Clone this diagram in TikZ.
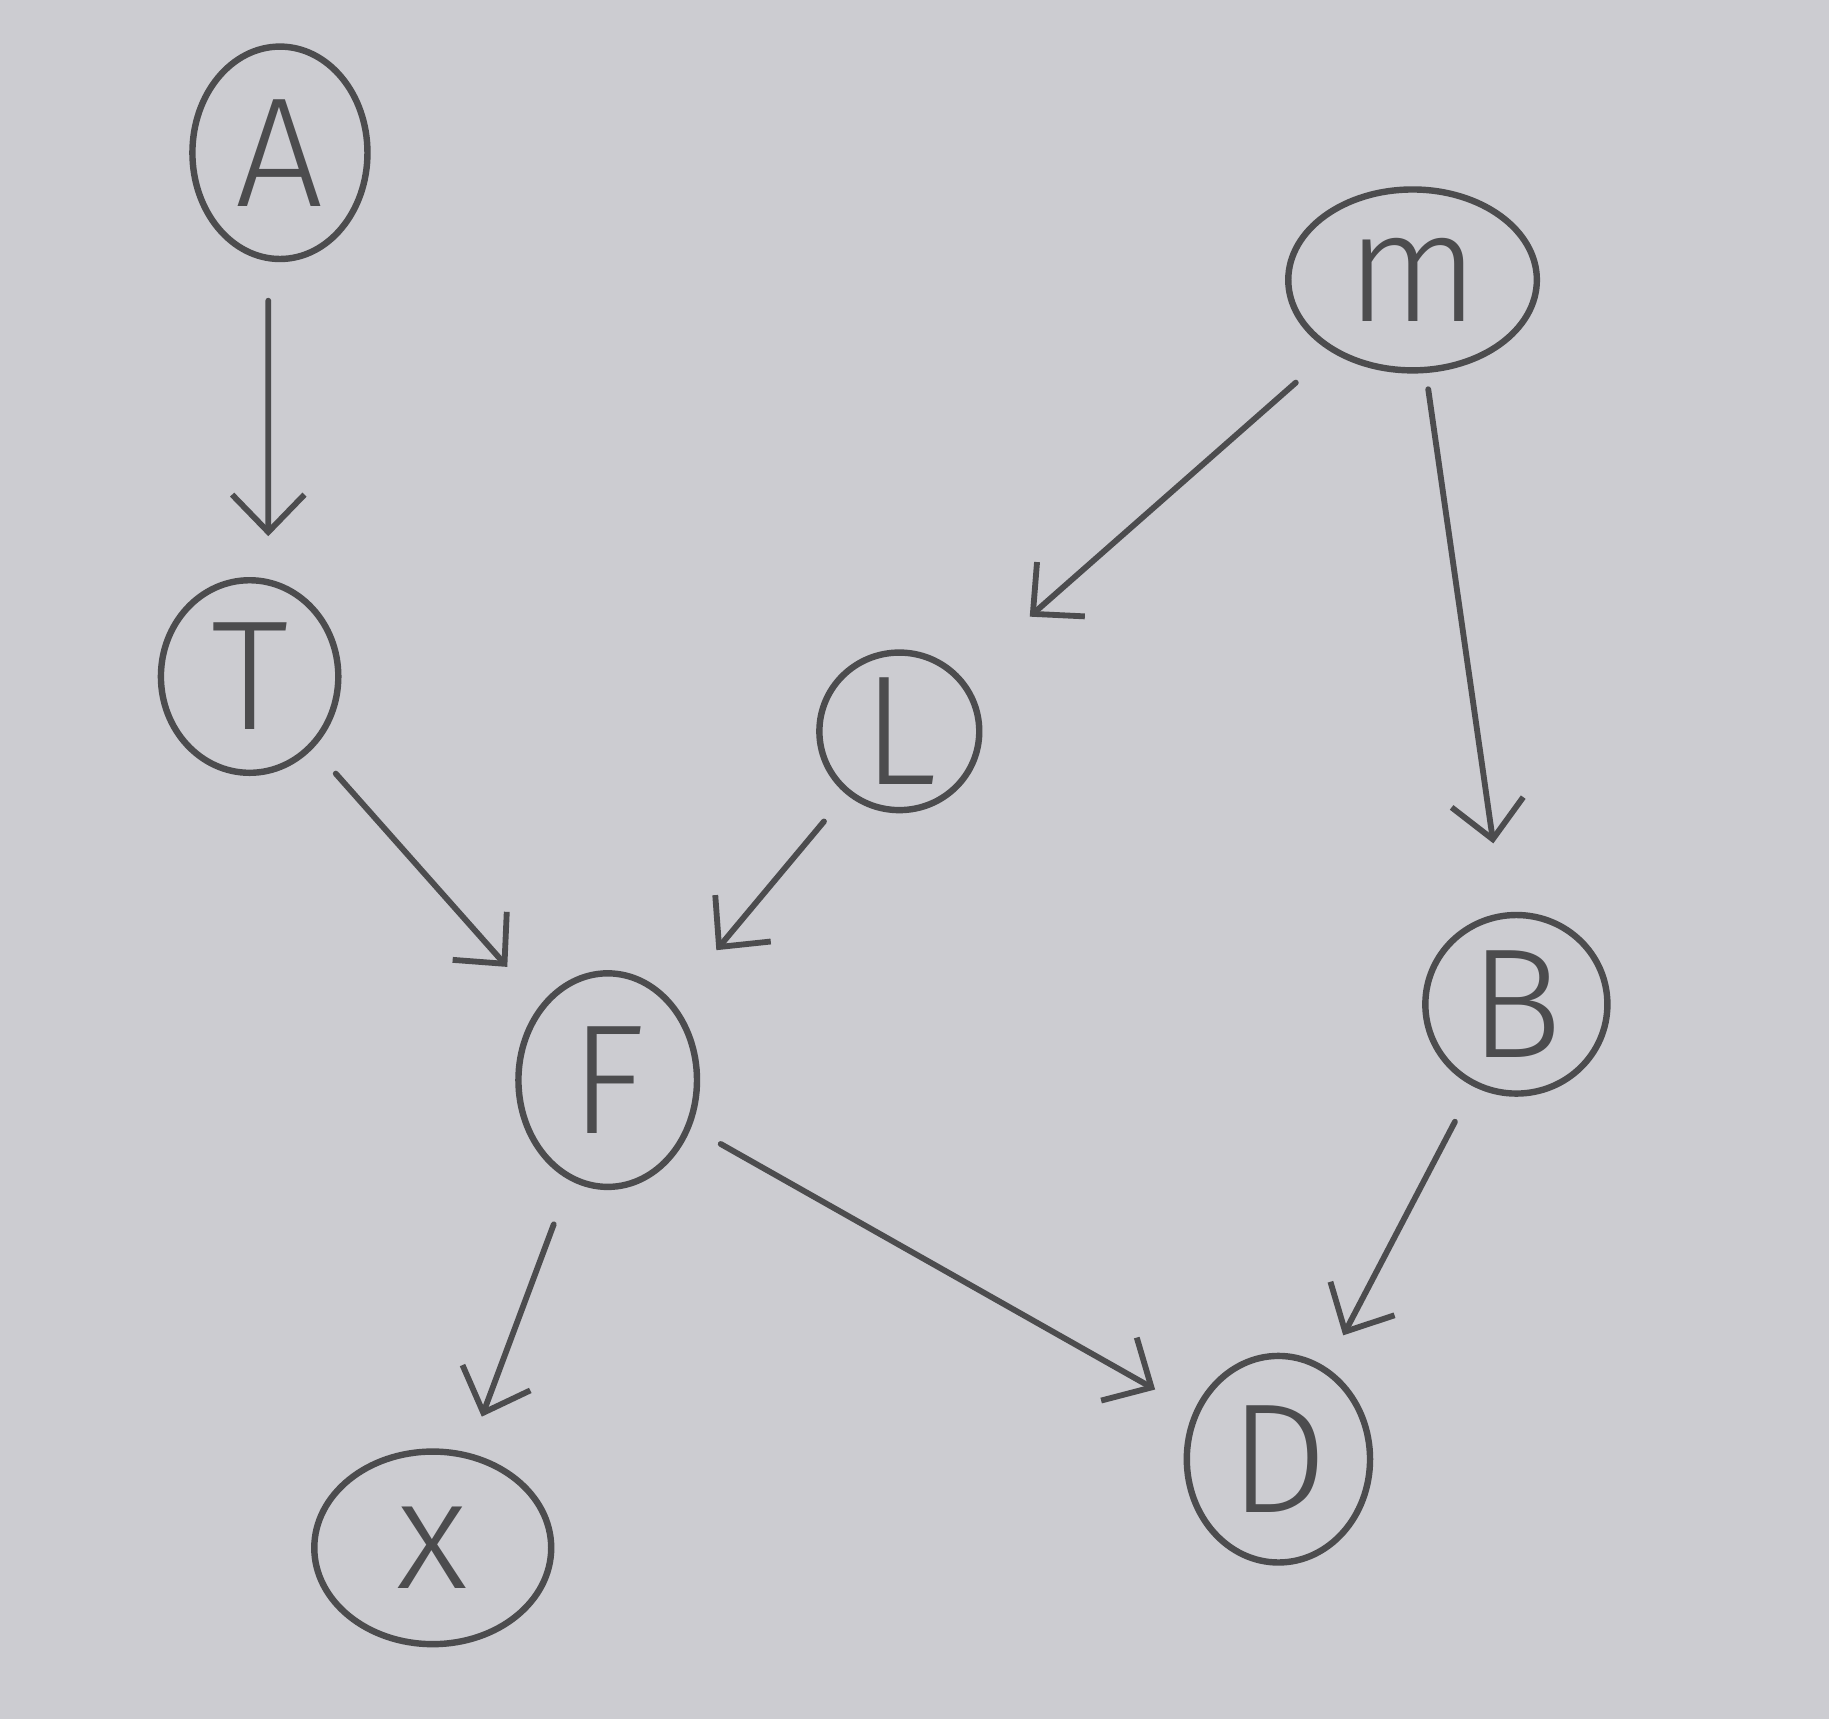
\documentclass[tikz,border=0pt]{standalone}
\usepackage{fontspec}
\setmainfont{Fira Sans}[UprightFont=* Light]
\usetikzlibrary{arrows.meta,shapes.geometric}
\definecolor{paper}{RGB}{204,204,209}
\definecolor{pencil}{RGB}{76,76,78}
\begin{document}
\begin{tikzpicture}[x=0.01cm,y=-0.01cm,
  var/.style={ellipse,draw=pencil,line width=0.055cm,inner sep=0pt,
    text=pencil,font=\fontsize{38}{40}\selectfont},
  arr/.style={draw=pencil,line width=0.05cm,line cap=round,
    -{Straight Barb[length=0.32cm,width=0.62cm,line width=0.05cm]}}]
  \fill[paper] (0,0) rectangle (1568,1474);
  \useasboundingbox (0,0) rectangle (1568,1474);
  % variables
  \node[var,minimum width=1.50cm,minimum height=1.82cm] (A) at (240,131) {A};
  \node[var,minimum width=1.52cm,minimum height=1.65cm] (T) at (214,580) {T};
  \node[var,minimum width=2.13cm,minimum height=1.55cm] (M) at (1211,240) {m};
  \node[var,minimum width=1.37cm,minimum height=1.35cm] (L) at (771,627) {L};
  \node[var,minimum width=1.53cm,minimum height=1.83cm] (F) at (521,926) {F};
  \node[var,minimum width=1.56cm,minimum height=1.53cm] (B) at (1300,861) {B};
  \node[var,minimum width=2.03cm,minimum height=1.65cm] (X) at (371,1327) {x};
  \node[var,minimum width=1.57cm,minimum height=1.77cm] (D) at (1096,1251) {D};
  % dependencies
  \draw[arr,shorten <=0.33cm,shorten >=0.35cm]
    ([xshift=-0.1cm]A.south) -- ([xshift=0.16cm]T.north);
  \draw[arr,shorten <=0.29cm,shorten >=0.43cm] (T) -- (F);
  \draw[arr,shorten <=0.40cm,shorten >=0.78cm] (M) -- (L);
  \draw[arr,shorten <=0.30cm,shorten >=0.58cm] (L) -- (F);
  \draw[arr,shorten <=0.14cm,shorten >=0.60cm] (M) -- (B);
  \draw[arr,shorten <=0.34cm,shorten >=0.31cm] (B) -- (D);
  \draw[arr,shorten <=0.40cm,shorten >=0.33cm] (F) -- (X);
  \draw[arr,shorten <=0.29cm,shorten >=0.38cm] (F) -- (D);
\end{tikzpicture}
\end{document}
